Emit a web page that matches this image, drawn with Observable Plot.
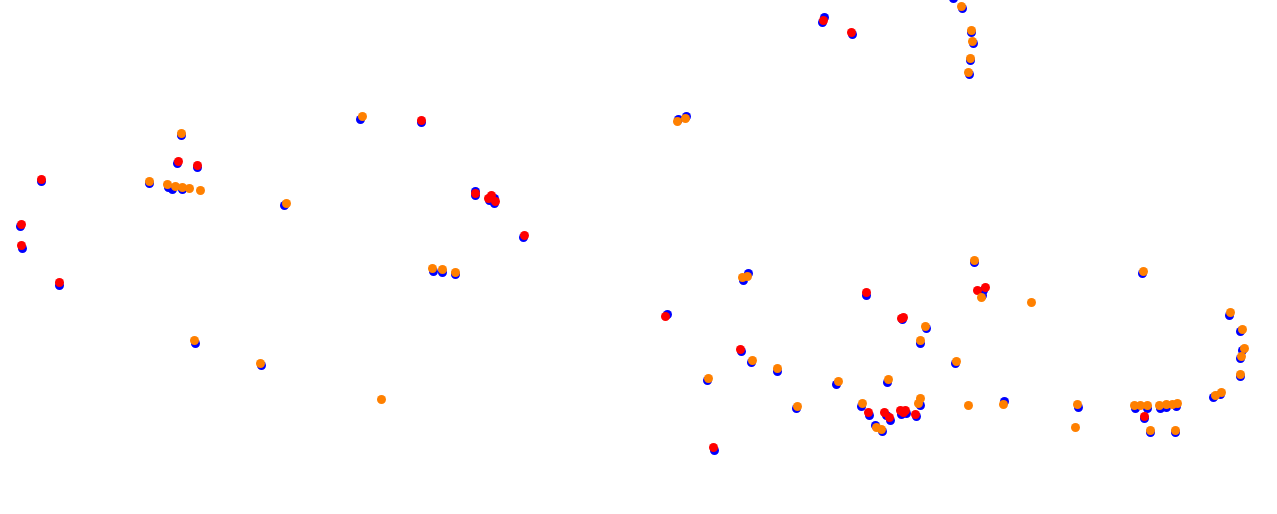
<!DOCTYPE html>
<html>
<head>
<meta charset="utf-8">
<script src="https://cdn.jsdelivr.net/npm/d3@7"></script>
<script src="https://cdn.jsdelivr.net/npm/@observablehq/plot@0.6"></script>
<style>
  html, body { margin: 0; padding: 0; background: #fff; overflow: hidden; }
</style>
</head>
<body>
<div id="chart"></div>
<script>
// Blue series (drawn underneath)
const blueX = [41,181,177,197,149,168,172,182,284,20,22,59,
  360,421,475,475,489,494,494,523,433,442,455,195,261,
  678,686,743,748,667,866,902,926,920,955,741,751,777,707,836,887,796,714,
  861,869,886,890,901,906,916,920,875,882,
  974,983,982,1142,1229,1240,1242,1240,1240,1220,1213,1004,1078,
  1135,1147,1160,1166,1176,1144,1150,1175,
  953,962,971,973,970,969,824,822,852];
const blueY = [181,135,163,167,183,187,189,189,205,226,248,285,
  119,122,191,195,200,198,203,237,271,272,274,343,365,
  119,116,280,273,314,295,319,328,343,363,351,362,371,380,384,382,408,450,
  406,415,415,420,414,413,416,405,425,431,
  262,290,295,273,315,331,350,358,376,394,397,401,407,
  408,408,408,407,406,418,432,432,
  -2,8,32,43,60,74,17,22,34];

// Red series
const redX = [41,178,197,21,21,59,421,475,488,491,495,524,
  665,866,903,901,740,713,868,884,889,900,905,903,915,977,985,1144,823,851];
const redY = [179,161,165,224,245,282,120,193,198,195,201,235,
  316,292,317,318,349,447,412,412,417,410,410,412,414,290,287,416,20,32];

// Orange series (drawn on top)
const orangeX = [181,149,167,175,182,189,200,286,362,432,442,455,194,260,381,
  677,685,742,747,925,920,956,752,777,708,838,888,797,862,920,918,876,881,
  974,981,1031,1143,1230,1242,1244,1241,1240,1221,1215,968,1003,1077,1075,
  1134,1140,1147,1159,1166,1172,1177,1150,1175,
  961,971,972,970,968];
const orangeY = [133,181,184,186,187,188,190,203,116,268,269,272,340,363,399,
  121,118,277,276,326,340,361,360,368,378,381,379,406,403,398,403,427,429,
  260,297,302,271,312,329,348,356,374,392,395,405,404,404,427,
  405,405,405,405,404,404,403,430,430,
  6,30,41,58,72];

const toRows = (xs, ys) => xs.map((x, i) => ({x, y: ys[i]}));
const blue = toRows(blueX, blueY);
const red = toRows(redX, redY);
const orange = toRows(orangeX, orangeY);

const chart = Plot.plot({
  width: 1277,
  height: 514,
  margin: 0,
  x: {domain: [0, 1277], axis: null},
  y: {domain: [514, 0], axis: null},
  marks: [
    Plot.dot(blue, {x: "x", y: "y", r: 4.5, fill: "#0000ff", stroke: "none"}),
    Plot.dot(red, {x: "x", y: "y", r: 4.5, fill: "#ff0000", stroke: "none"}),
    Plot.dot(orange, {x: "x", y: "y", r: 4.5, fill: "#ff8000", stroke: "none"})
  ]
});
document.getElementById("chart").appendChild(chart);
</script>
</body>
</html>
